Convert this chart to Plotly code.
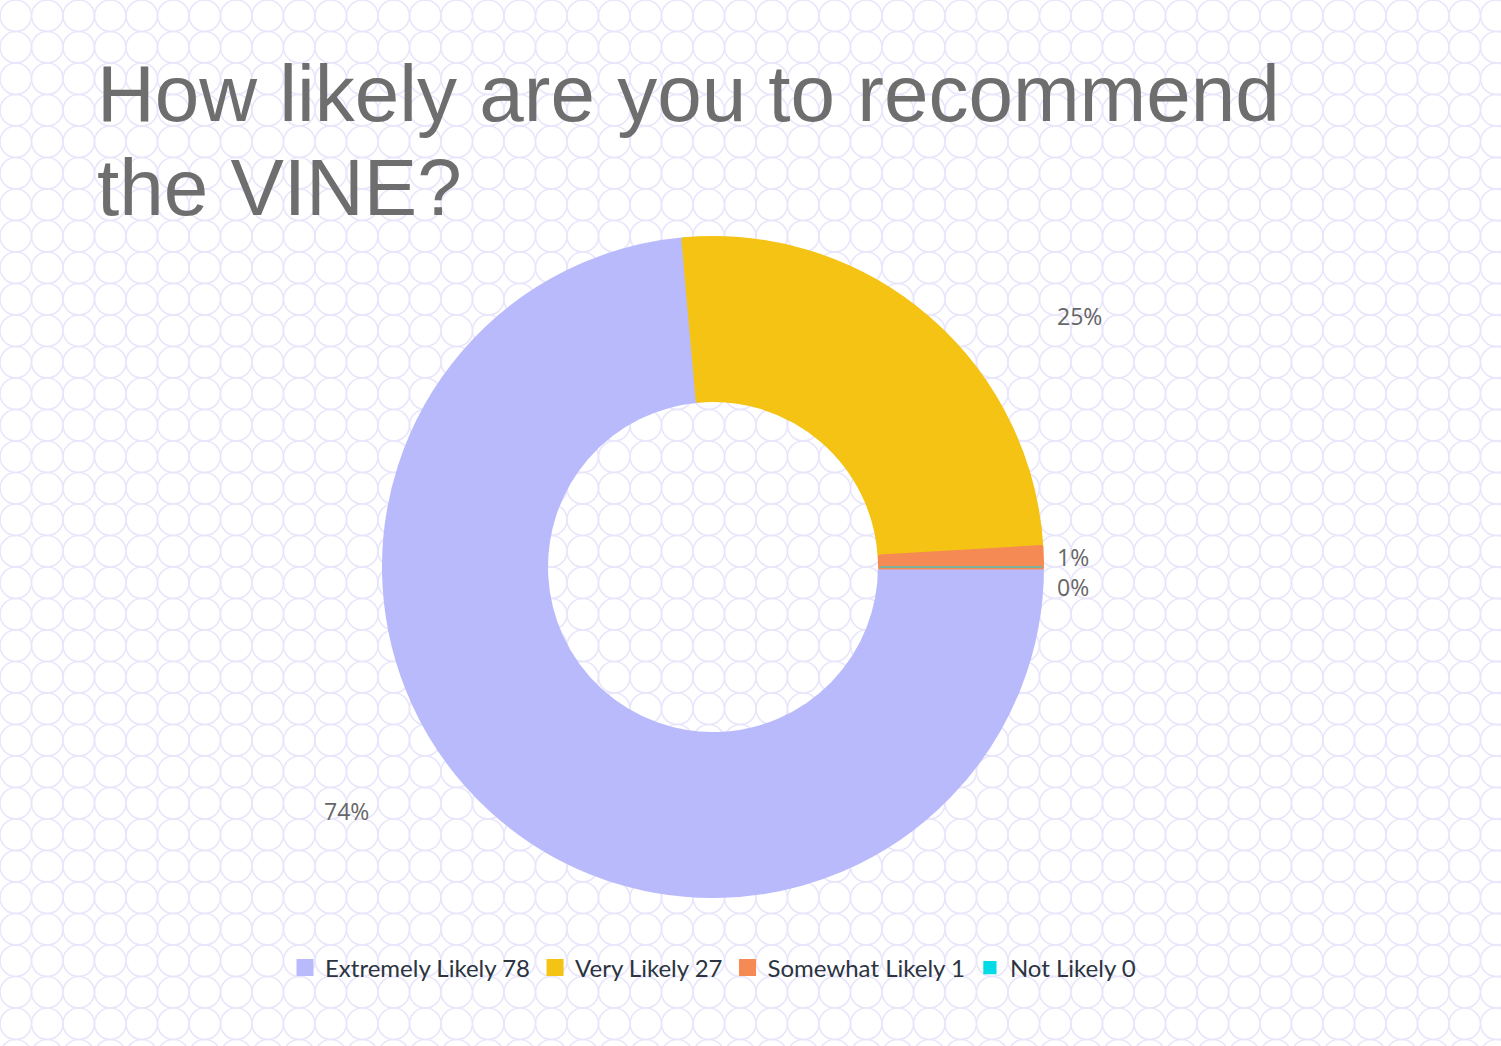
import base64
import math
import plotly.graph_objects as go

# ---- data ----
categories = ["Extremely Likely", "Very Likely", "Somewhat Likely", "Not Likely"]
counts = [78, 27, 1, 0]
colors = ["#b9bafc", "#f4c314", "#f58a54", "#00dbe6"]
title_lines = ["How likely are you to recommend", "the VINE?"]

W, H = 1501, 1046
CX, CY, R = 713, 567, 331  # pie centre / outer radius in pixels
R_IN = 165                 # inner radius in pixels
LW = 5                     # slice border (same colour) -> bigger legend swatches
R_DOM = R - LW / 2
line_widths = [LW if v > 0 else 1.2 for v in counts]

# ---- background pattern (touching circles) ----
step = 31.5
rad = 15.75
circles = []
nx = int(W / step) + 2
ny = int(H / step) + 2
for j in range(-1, ny):
    for i in range(-1, nx):
        circles.append(f'<circle cx="{i*step+step/2:.2f}" cy="{j*step+step/2:.2f}" r="{rad}"/>')
svg = (f'<svg xmlns="http://www.w3.org/2000/svg" width="{W}" height="{H}" viewBox="0 0 {W} {H}">'
       f'<rect width="{W}" height="{H}" fill="white"/>'
       f'<g fill="none" stroke="#e9e6fb" stroke-width="1.6">' + "".join(circles) + '</g></svg>')
bg_src = "data:image/svg+xml;base64," + base64.b64encode(svg.encode()).decode()

fig = go.Figure()
fig.add_trace(go.Pie(
    labels=[f"{c} {v}" for c, v in zip(categories, counts)],
    values=counts,
    marker=dict(colors=colors, line=dict(width=line_widths, color=colors)),
    hole=(R_IN + LW / 2) / R_DOM,
    sort=False,
    direction="clockwise",
    rotation=90,
    textinfo="none",
    hoverinfo="label+percent",
    domain=dict(x=[(CX - R_DOM) / W, (CX + R_DOM) / W],
                y=[(H - CY - R_DOM) / H, (H - CY + R_DOM) / H]),
    showlegend=True,
))

# ---- percentage labels, positioned from slice mid-angles ----
total = sum(counts)
cum = 0
labels = []
for v in counts:
    frac = v / total
    theta = math.radians(90 + (cum + frac / 2) * 360)
    cum += frac
    side = 1 if math.sin(theta) >= 0 else -1
    y = CY - R * math.cos(theta)
    labels.append([side, y, f"{round(frac*100)}%"])
for side in (1, -1):
    items = sorted([l for l in labels if l[0] == side], key=lambda l: l[1])
    for a, b in zip(items, items[1:]):
        if b[1] - a[1] < 30:
            b[1] = a[1] + 30

annotations = []
for side, y, txt in labels:
    x = CX + side * (R + 11)
    annotations.append(dict(
        x=x / W, y=1 - y / H, xref="paper", yref="paper",
        text=txt, showarrow=False,
        xanchor="left" if side > 0 else "right", yanchor="middle",
        font=dict(family="Open Sans", size=23, color="#666666"),
    ))

# ---- title lines ----
for k, line in enumerate(title_lines):
    annotations.append(dict(
        x=95 / W, y=1 - (94 + k * 94) / H, xref="paper", yref="paper",
        text=line, showarrow=False, xanchor="left", yanchor="middle",
        font=dict(family="Liberation Sans, Arial", size=80, color="#6e6e6e"),
    ))

fig.update_layout(
    width=W, height=H,
    margin=dict(l=0, r=0, t=0, b=0),
    paper_bgcolor="white",
    plot_bgcolor="white",
    images=[dict(source=bg_src, xref="paper", yref="paper", x=0, y=1,
                 sizex=1, sizey=1, sizing="stretch", layer="below",
                 xanchor="left", yanchor="top")],
    annotations=annotations,
    legend=dict(orientation="h", x=CX / W, xanchor="center",
                y=1 - 968 / H, yanchor="middle",
                font=dict(family="Lato", size=24, color="#2b3440"),
                bgcolor="rgba(0,0,0,0)", itemclick=False, itemwidth=30),
)

fig.write_html("out.html", config={"displayModeBar": False},
               post_script="document.body.style.margin='0px';")
